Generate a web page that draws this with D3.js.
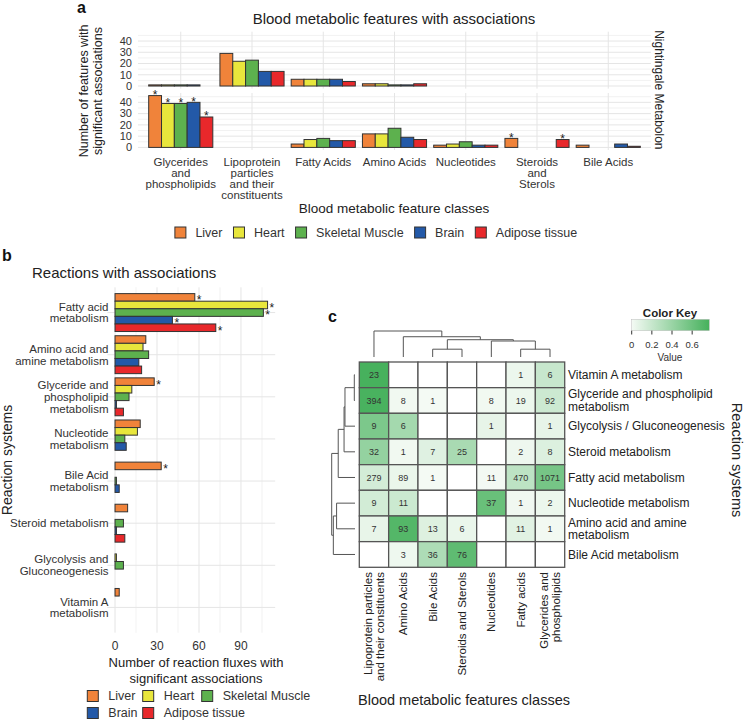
<!DOCTYPE html>
<html>
<head>
<meta charset="utf-8">
<script src="https://cdn.jsdelivr.net/npm/d3@7"></script>
<style>
body { margin: 0; background: #fff; }
svg { font-family: "Liberation Sans", Arial, Helvetica, sans-serif; }
</style>
</head>
<body>
<div id="chart"></div>
<script>
// ---------- shared ----------
var tissues = ["Liver", "Heart", "Skeletal Muscle", "Brain", "Adipose tissue"];
var tissueColors = ["#F0833A", "#E8E63C", "#5DB14E", "#2359A8", "#E8282B"];

// ---------- panel a data ----------
var featureClasses = ["Glycerides and phospholipids", "Lipoprotein particles and their constituents", "Fatty Acids",
  "Amino Acids", "Nucleotides", "Steroids and Sterols", "Bile Acids"];
var featureClassLines = [["Glycerides", "and", "phospholipids"], ["Lipoprotein", "particles", "and their", "constituents"],
  ["Fatty Acids"], ["Amino Acids"], ["Nucleotides"], ["Steroids", "and", "Sterols"], ["Bile Acids"]];
var platforms = ["Nightingale", "Metabolon"];
var nightingaleCounts = [
  [1, 1, 1, 1, null],
  [29, 22, 23, 13, 13],
  [6, 6, 6, 6, 4],
  [2, 2, 1, 1, 2],
  [null, null, null, null, null],
  [null, null, null, null, null],
  [null, null, null, null, null]
];
var metabolonCounts = [
  [46, 39, 39, 40, 27],
  [null, null, null, null, null],
  [3, 7, 8, 6, 6],
  [12, 12, 17, 9, 7],
  [2, 3, 5, 2, 2],
  [8, null, null, null, 7],
  [2, null, null, 3, 1]
];
var metabolonStars = [
  [1, 1, 1, 1, 1],
  [0, 0, 0, 0, 0],
  [0, 0, 0, 0, 0],
  [0, 0, 0, 0, 0],
  [0, 0, 0, 0, 0],
  [1, 0, 0, 0, 1],
  [0, 0, 0, 0, 0]
];
var yTicksA = [0, 10, 20, 30, 40];
var yMinorA = [5, 15, 25, 35, 45];

// ---------- panel b data ----------
var reactionSystems = ["Fatty acid metabolism", "Amino acid and amine metabolism", "Glyceride and phospholipid metabolism",
  "Nucleotide metabolism", "Bile Acid metabolism", "Steroid metabolism", "Glycolysis and Gluconeogenesis", "Vitamin A metabolism"];
var reactionLines = [["Fatty acid", "metabolism"], ["Amino acid and", "amine metabolism"], ["Glyceride and", "phospholipid", "metabolism"],
  ["Nucleotide", "metabolism"], ["Bile Acid", "metabolism"], ["Steroid metabolism"], ["Glycolysis and", "Gluconeogenesis"], ["Vitamin A", "metabolism"]];
var fluxCounts = [
  [57, 109, 106, 41, 72],
  [22, 20, 24, 17, 19],
  [28, 12, 10, 1, 6],
  [18, 16, 7, 8, 0],
  [33, 0, 1, 3, 0],
  [9, 0, 6, 1, 7],
  [0, 1, 6, 0, 0],
  [3, null, null, null, null]
];
var fluxStars = [
  [1, 1, 1, 1, 1],
  [0, 0, 0, 0, 0],
  [1, 0, 0, 0, 0],
  [0, 0, 0, 0, 0],
  [1, 0, 0, 0, 0],
  [0, 0, 0, 0, 0],
  [0, 0, 0, 0, 0],
  [0, 0, 0, 0, 0]
];
var xTicksB = [0, 30, 60, 90];
var xMinorB = [15, 45, 75, 105];

// ---------- panel c data ----------
var heatCols = ["Lipoprotein particles and their constituents", "Amino Acids", "Bile Acids", "Steroids and Sterols",
  "Nucleotides", "Fatty acids", "Glycerides and phospholipids"];
var heatColLines = [["Lipoprotein particles", "and their constituents"], ["Amino Acids"], ["Bile Acids"], ["Steroids and Sterols"],
  ["Nucleotides"], ["Fatty acids"], ["Glycerides and", "phospholipids"]];
var heatRows = ["Vitamin A metabolism", "Glyceride and phospholipid metabolism", "Glycolysis / Gluconeogenesis",
  "Steroid metabolism", "Fatty acid metabolism", "Nucleotide metabolism", "Amino acid and amine metabolism", "Bile Acid metabolism"];
var heatRowLines = [["Vitamin A metabolism"], ["Glyceride and phospholipid", "metabolism"], ["Glycolysis / Gluconeogenesis"],
  ["Steroid metabolism"], ["Fatty acid metabolism"], ["Nucleotide metabolism"], ["Amino acid and amine", "metabolism"], ["Bile Acid metabolism"]];
var heatCounts = [
  [23, null, null, null, null, 1, 6],
  [394, 8, 1, null, 8, 19, 92],
  [9, 6, null, null, 1, null, 1],
  [32, 1, 7, 25, null, 2, 8],
  [279, 89, 1, null, 11, 470, 1071],
  [9, 11, null, null, 37, 1, 2],
  [7, 93, 13, 6, null, 11, 1],
  [null, 3, 36, 76, null, null, null]
];
var keyTicks = [0, 0.2, 0.4, 0.6];
// dendrograms: leaves are indices into heatRows / heatCols, h is merge height
var rowTree = {h: 1, kids: [{h: 0.72, kids: [{h: 0.47, kids: [{h: 0.43, kids: [{h: 0.03, kids: [0, 1]}, 2]}, 3]}, 4]},
  {h: 0.93, kids: [{h: 0.79, kids: [5, 6]}, 7]}]};
var colTree = {h: 1, kids: [0, {h: 0.78, kids: [1, {h: 0.665, kids: [{h: 0.3, kids: [2, 3]},
  {h: 0.615, kids: [4, {h: 0.3, kids: [5, 6]}]}]}]}]};

var svg = d3.select("#chart").append("svg")
  .attr("width", 746)
  .attr("height", 720);

var gridCol = "#e5e5e5";
var textCol = "#333";

drawPanelA();
drawPanelB();
drawPanelC();

function panelLabel(txt, x, y) {
  svg.append("text").attr("x", x).attr("y", y)
    .attr("font-size", 16).attr("font-weight", "bold").attr("fill", "#111")
    .text(txt);
}

function drawPanelA() {
  panelLabel("a", 77, 13);

  var x = d3.scalePoint().domain(featureClasses).range([138, 651]).padding(0.6);
  var sub = d3.scaleBand().domain(tissues).range([-0.45 * x.step(), 0.45 * x.step()]);
  var maxA = d3.max(nightingaleCounts.concat(metabolonCounts), function(r) { return d3.max(r); });
  var facets = [
    {name: platforms[0], data: nightingaleCounts, stars: null, top: 31.7, bottom: 88.6},
    {name: platforms[1], data: metabolonCounts, stars: metabolonStars, top: 93, bottom: 150}
  ];

  svg.append("text").attr("x", 394).attr("y", 24)
    .attr("text-anchor", "middle").attr("font-size", 15).attr("fill", "#222")
    .text("Blood metabolic features with associations");

  facets.forEach(function(f) {
    var y = d3.scaleLinear().domain([-0.05 * maxA, 1.05 * maxA]).range([f.bottom, f.top]);
    var g = svg.append("g");

    // grid
    g.selectAll(".minor").data(yMinorA).enter().append("line")
      .attr("x1", 138).attr("x2", 651)
      .attr("y1", function(d) { return y(d); }).attr("y2", function(d) { return y(d); })
      .attr("stroke", gridCol).attr("stroke-width", 0.5);
    g.selectAll(".major").data(yTicksA).enter().append("line")
      .attr("x1", 138).attr("x2", 651)
      .attr("y1", function(d) { return y(d); }).attr("y2", function(d) { return y(d); })
      .attr("stroke", gridCol).attr("stroke-width", 1);
    g.selectAll(".vgrid").data(featureClasses).enter().append("line")
      .attr("x1", function(d) { return x(d); }).attr("x2", function(d) { return x(d); })
      .attr("y1", f.top).attr("y2", f.bottom)
      .attr("stroke", gridCol).attr("stroke-width", 1);

    // tick labels
    g.selectAll(".tick").data(yTicksA).enter().append("text")
      .attr("x", 132).attr("y", function(d) { return y(d); }).attr("dy", "0.35em")
      .attr("text-anchor", "end").attr("font-size", 11).attr("fill", textCol)
      .text(function(d) { return d; });

    // bars
    var bars = [];
    f.data.forEach(function(row, i) {
      row.forEach(function(v, j) {
        if (v !== null) bars.push({cls: featureClasses[i], t: tissues[j], v: v, star: f.stars ? f.stars[i][j] : 0});
      });
    });
    g.selectAll(".bar").data(bars).enter().append("rect")
      .attr("x", function(d) { return x(d.cls) + sub(d.t); })
      .attr("width", sub.bandwidth())
      .attr("y", function(d) { return y(d.v); })
      .attr("height", function(d) { return y(0) - y(d.v); })
      .attr("fill", function(d) { return tissueColors[tissues.indexOf(d.t)]; })
      .attr("stroke", "#333").attr("stroke-width", 1);
    g.selectAll(".star").data(bars.filter(function(d) { return d.star; })).enter().append("text")
      .attr("x", function(d) { return x(d.cls) + sub(d.t) + sub.bandwidth() / 2; })
      .attr("y", function(d) { return y(d.v) + 3.2; })
      .attr("text-anchor", "middle").attr("font-size", 12).attr("fill", "#222")
      .text("*");

    // strip label
    var cy = (f.top + f.bottom) / 2;
    g.append("text").attr("transform", "translate(659," + cy + ") rotate(90)")
      .attr("text-anchor", "middle").attr("dy", "0.35em")
      .attr("font-size", 12).attr("fill", "#222").text(f.name);
  });

  // x labels
  featureClasses.forEach(function(c, i) {
    var lines = featureClassLines[i];
    var t = svg.append("text").attr("text-anchor", "middle").attr("font-size", 11.5).attr("fill", textCol);
    lines.forEach(function(l, k) {
      t.append("tspan").attr("x", x(c)).attr("y", 165.8 + k * 11).text(l);
    });
  });
  svg.append("text").attr("x", 394).attr("y", 213)
    .attr("text-anchor", "middle").attr("font-size", 13.5).attr("fill", "#222")
    .text("Blood metabolic feature classes");

  // y title, two lines
  var titleLines = ["Number of features with", "significant associations"];
  var titleX = [84, 97.5];
  titleLines.forEach(function(l, k) {
    svg.append("text").attr("transform", "translate(" + titleX[k] + ",91) rotate(-90)")
      .attr("text-anchor", "middle").attr("dy", "0.35em")
      .attr("font-size", 12.5).attr("fill", "#222").text(l);
  });

  // legend
  var lg = svg.append("g");
  var lx = 0;
  tissues.forEach(function(t, i) {
    lg.append("rect").attr("x", lx).attr("y", 227).attr("width", 11).attr("height", 11)
      .attr("fill", tissueColors[i]).attr("stroke", "#333").attr("stroke-width", 1);
    var txt = lg.append("text").attr("x", lx + 20.5).attr("y", 232.5).attr("dy", "0.35em")
      .attr("font-size", 12.5).attr("fill", textCol).text(t);
    lx += 20.5 + txt.node().getComputedTextLength() + 11;
  });
  var lw = lx - 11;
  lg.attr("transform", "translate(" + (376 - lw / 2) + ",0)");
}

function drawPanelB() {
  panelLabel("b", 2, 261);

  var left = 107.4, right = 275.2, top = 287.3, bottom = 632.7;
  var maxB = d3.max(fluxCounts, function(r) { return d3.max(r); });
  var x = d3.scaleLinear().domain([-0.05 * maxB, 1.05 * maxB]).range([left, right]);
  var y = d3.scalePoint().domain(reactionSystems).range([top, bottom]).padding(0.6);
  var sub = d3.scaleBand().domain(tissues).range([-0.45 * y.step(), 0.45 * y.step()]);
  var g = svg.append("g");

  svg.append("text").attr("x", 32).attr("y", 278)
    .attr("font-size", 15).attr("fill", "#222").text("Reactions with associations");

  g.selectAll(".minor").data(xMinorB).enter().append("line")
    .attr("x1", function(d) { return x(d); }).attr("x2", function(d) { return x(d); })
    .attr("y1", top).attr("y2", bottom)
    .attr("stroke", gridCol).attr("stroke-width", 0.5);
  g.selectAll(".major").data(xTicksB).enter().append("line")
    .attr("x1", function(d) { return x(d); }).attr("x2", function(d) { return x(d); })
    .attr("y1", top).attr("y2", bottom)
    .attr("stroke", gridCol).attr("stroke-width", 1);
  g.selectAll(".hgrid").data(reactionSystems).enter().append("line")
    .attr("x1", left).attr("x2", right)
    .attr("y1", function(d) { return y(d); }).attr("y2", function(d) { return y(d); })
    .attr("stroke", gridCol).attr("stroke-width", 1);

  var bars = [];
  fluxCounts.forEach(function(row, i) {
    row.forEach(function(v, j) {
      if (v !== null) bars.push({r: reactionSystems[i], t: tissues[j], v: v, star: fluxStars[i][j]});
    });
  });
  g.selectAll(".bar").data(bars).enter().append("rect")
    .attr("x", x(0))
    .attr("width", function(d) { return x(d.v) - x(0); })
    .attr("y", function(d) { return y(d.r) + sub(d.t); })
    .attr("height", sub.bandwidth())
    .attr("fill", function(d) { return tissueColors[tissues.indexOf(d.t)]; })
    .attr("stroke", "#333").attr("stroke-width", 1);
  g.selectAll(".star").data(bars.filter(function(d) { return d.star; })).enter().append("text")
    .attr("x", function(d) { return x(d.v) + 2; })
    .attr("y", function(d) { return y(d.r) + sub(d.t) + sub.bandwidth() / 2 + 6.9; })
    .attr("font-size", 12).attr("fill", "#222").text("*");

  // y labels
  reactionSystems.forEach(function(r, i) {
    var lines = reactionLines[i];
    var t = svg.append("text").attr("text-anchor", "end").attr("font-size", 11.5).attr("fill", textCol);
    lines.forEach(function(l, k) {
      t.append("tspan").attr("x", 108.5)
        .attr("y", y(r) + (k - (lines.length - 1) / 2) * 11.8 + 4).text(l);
    });
  });
  svg.append("text").attr("transform", "translate(7," + ((top + bottom) / 2) + ") rotate(-90)")
    .attr("text-anchor", "middle").attr("dy", "0.35em")
    .attr("font-size", 14).attr("fill", "#222").text("Reaction systems");

  // x axis
  g.selectAll(".xt").data(xTicksB).enter().append("text")
    .attr("x", function(d) { return x(d); }).attr("y", 650)
    .attr("text-anchor", "middle").attr("font-size", 12).attr("fill", textCol)
    .text(function(d) { return d; });
  svg.append("text").attr("x", 196).attr("y", 667)
    .attr("text-anchor", "middle").attr("font-size", 13).attr("fill", "#222")
    .text("Number of reaction fluxes with");
  svg.append("text").attr("x", 196).attr("y", 682.5)
    .attr("text-anchor", "middle").attr("font-size", 13).attr("fill", "#222")
    .text("significant associations");

  // legend, 3 + 2 layout
  var colX = [87.3, 142.7, 201.7];
  var rowY = [690.5, 707.5];
  tissues.forEach(function(t, i) {
    var cx = colX[i % 3], cy = rowY[Math.floor(i / 3)];
    svg.append("rect").attr("x", cx).attr("y", cy).attr("width", 11).attr("height", 11)
      .attr("fill", tissueColors[i]).attr("stroke", "#333").attr("stroke-width", 1);
    svg.append("text").attr("x", cx + 21).attr("y", cy + 5.5).attr("dy", "0.35em")
      .attr("font-size", 12.5).attr("fill", textCol).text(t);
  });
}

function drawPanelC() {
  panelLabel("c", 328, 322);

  var hx = d3.scaleBand().domain(heatCols).range([359.3, 564.7]);
  var hy = d3.scaleBand().domain(heatRows).range([362, 567.3]);
  var keyMax = 0.77;
  var color = d3.scaleLinear().domain([0, keyMax]).range(["#f4faf4", "#46b15c"]);

  var cells = [];
  heatCounts.forEach(function(row, i) {
    var total = d3.sum(row);
    row.forEach(function(v, j) {
      cells.push({r: heatRows[i], c: heatCols[j], v: v, p: v === null ? null : v / total});
    });
  });

  var g = svg.append("g");
  g.selectAll(".cell").data(cells).enter().append("rect")
    .attr("x", function(d) { return hx(d.c); })
    .attr("y", function(d) { return hy(d.r); })
    .attr("width", hx.bandwidth()).attr("height", hy.bandwidth())
    .attr("fill", function(d) { return d.p === null ? "#ffffff" : color(d.p); })
    .attr("stroke", "#555").attr("stroke-width", 1.3);
  g.selectAll(".num").data(cells.filter(function(d) { return d.v !== null; })).enter().append("text")
    .attr("x", function(d) { return hx(d.c) + hx.bandwidth() / 2; })
    .attr("y", function(d) { return hy(d.r) + hy.bandwidth() / 2; })
    .attr("dy", "0.35em").attr("text-anchor", "middle")
    .attr("font-size", 9).attr("fill", "#333")
    .text(function(d) { return d.v; });

  // row labels
  heatRows.forEach(function(r, i) {
    var lines = heatRowLines[i];
    var t = svg.append("text").attr("font-size", 12).attr("fill", "#222");
    lines.forEach(function(l, k) {
      t.append("tspan").attr("x", 568)
        .attr("y", hy(r) + hy.bandwidth() / 2 + (k - (lines.length - 1) / 2) * 12.5 + 4.2).text(l);
    });
  });
  svg.append("text").attr("transform", "translate(737.5,460) rotate(90)")
    .attr("text-anchor", "middle").attr("dy", "0.35em")
    .attr("font-size", 14.5).attr("fill", "#222").text("Reaction systems");

  // column labels
  heatCols.forEach(function(c, i) {
    var lines = heatColLines[i];
    var cx = hx(c) + hx.bandwidth() / 2;
    lines.forEach(function(l, k) {
      var px = cx + (k - (lines.length - 1) / 2) * 12;
      svg.append("text").attr("transform", "translate(" + px + ",572) rotate(-90)")
        .attr("text-anchor", "end").attr("dy", "0.35em")
        .attr("font-size", 11.5).attr("fill", "#222").text(l);
    });
  });
  svg.append("text").attr("x", 358).attr("y", 705)
    .attr("font-size", 14.5).attr("fill", "#222").text("Blood metabolic features classes");

  // dendrograms
  var dg = svg.append("g").attr("stroke", "#555").attr("stroke-width", 1).attr("fill", "none");
  var colH = d3.scaleLinear().domain([0, 1]).range([357, 331]);
  var rowH = d3.scaleLinear().domain([0, 1]).range([355, 331.7]);
  drawTree(dg, colTree, function(i) { return hx(heatCols[i]) + hx.bandwidth() / 2; }, colH, false);
  drawTree(dg, rowTree, function(i) { return hy(heatRows[i]) + hy.bandwidth() / 2; }, rowH, true);

  // color key
  var kx = d3.scaleLinear().domain([0, keyMax]).range([631.7, 709.3]);
  var grad = svg.append("defs").append("linearGradient").attr("id", "keygrad");
  grad.append("stop").attr("offset", "0%").attr("stop-color", color(0));
  grad.append("stop").attr("offset", "100%").attr("stop-color", color(keyMax));
  svg.append("rect").attr("x", kx(0)).attr("y", 319.3)
    .attr("width", kx(keyMax) - kx(0)).attr("height", 11.4)
    .attr("fill", "url(#keygrad)").attr("stroke", "#bbb").attr("stroke-width", 0.5);
  svg.selectAll(".ktick").data(keyTicks).enter().append("line")
    .attr("x1", function(d) { return kx(d); }).attr("x2", function(d) { return kx(d); })
    .attr("y1", 330.7).attr("y2", 334.5).attr("stroke", "#333").attr("stroke-width", 1);
  svg.selectAll(".klab").data(keyTicks).enter().append("text")
    .attr("x", function(d) { return kx(d); }).attr("y", 347.5)
    .attr("text-anchor", "middle").attr("font-size", 9.5).attr("fill", "#333")
    .text(function(d) { return d; });
  svg.append("text").attr("x", 670).attr("y", 316.5)
    .attr("text-anchor", "middle").attr("font-size", 11.5).attr("font-weight", "bold").attr("fill", "#222")
    .text("Color Key");
  svg.append("text").attr("x", 670).attr("y", 360.5)
    .attr("text-anchor", "middle").attr("font-size", 10).attr("fill", "#333")
    .text("Value");
}

function drawTree(g, node, leafPos, hPos, isRow) {
  if (typeof node === "number") return {p: leafPos(node), h: 0};
  var a = drawTree(g, node.kids[0], leafPos, hPos, isRow);
  var b = drawTree(g, node.kids[1], leafPos, hPos, isRow);
  var hp = hPos(node.h);
  function seg(p1, h1, p2, h2) {
    var l = g.append("line");
    if (isRow) l.attr("x1", h1).attr("y1", p1).attr("x2", h2).attr("y2", p2);
    else l.attr("x1", p1).attr("y1", h1).attr("x2", p2).attr("y2", h2);
  }
  seg(a.p, hPos(a.h), a.p, hp);
  seg(b.p, hPos(b.h), b.p, hp);
  seg(a.p, hp, b.p, hp);
  return {p: (a.p + b.p) / 2, h: node.h};
}
</script>
</body>
</html>
